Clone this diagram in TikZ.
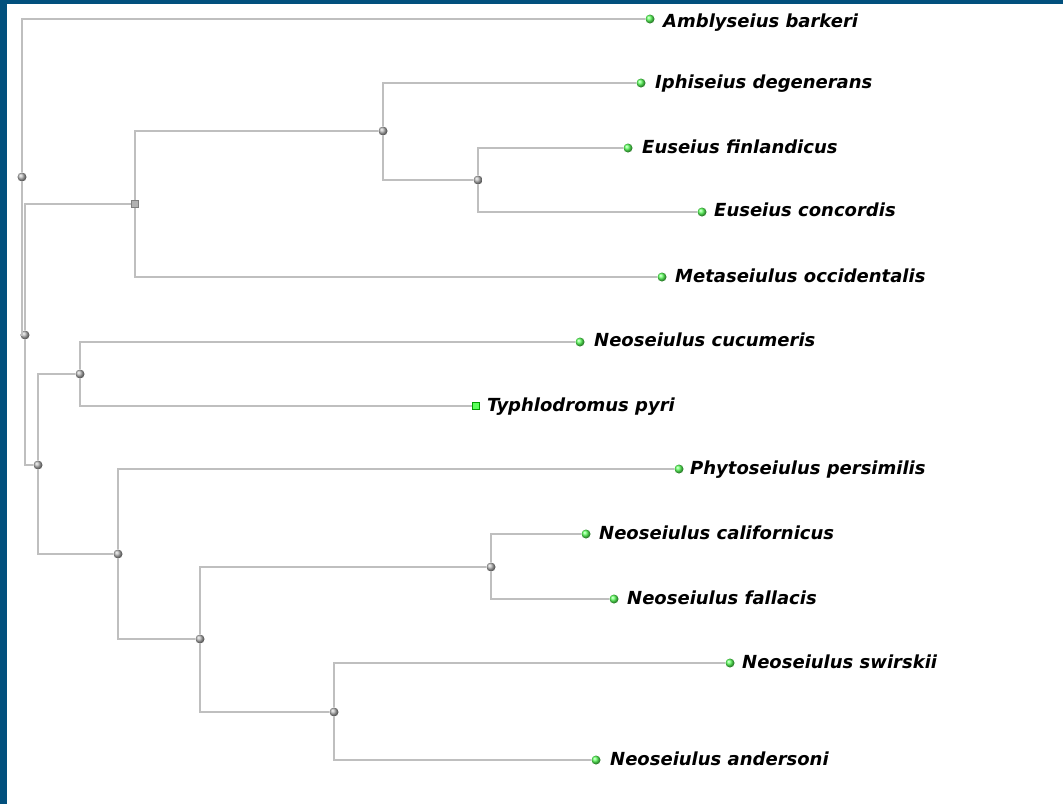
\documentclass[tikz,border=0pt]{standalone}
\usepackage{fontspec}
\setmainfont{DejaVu Sans}
\usepackage{tikz}
\usetikzlibrary{shapes}
\definecolor{frameblue}{RGB}{2,80,125}

\begin{document}
\begin{tikzpicture}[x=1pt,y=-1pt]
  \tikzstyle{Branch}=[draw=black!25,line width=1.4pt]
  \tikzstyle{Inner}=[circle,inner sep=0pt,minimum size=9pt,shading=ball,ball color=gray!60]
  \tikzstyle{InnerBox}=[rectangle,inner sep=0pt,minimum size=7pt,fill=gray!60,draw=gray,line width=0.6pt]
  \tikzstyle{Leaf}=[circle,inner sep=0pt,minimum size=9pt,shading=ball,ball color=green!65!white]
  \tikzstyle{LeafBox}=[rectangle,inner sep=0pt,minimum size=7pt,fill=green!65,draw=green!60!black,line width=0.6pt]
  \tikzstyle{Name}=[anchor=base west,inner sep=0pt,font=\fontsize{18}{20}\selectfont\bfseries\itshape]
  \useasboundingbox (0,0) rectangle (1063,804);
  \fill[white] (0,0) rectangle (1063,804);
  \fill[frameblue] (0,0) rectangle (1063,4);
  \fill[frameblue] (0,0) rectangle (7,804);
  % inner nodes
  \node[Inner] (r) at (22,177) {};
  \node[Inner] (n1) at (25,335) {};
  \node[InnerBox] (s) at (135,204) {};
  \node[Inner] (a1) at (383,131) {};
  \node[Inner] (a2) at (478,180) {};
  \node[Inner] (b1) at (38,465) {};
  \node[Inner] (b2) at (80,374) {};
  \node[Inner] (c1) at (118,554) {};
  \node[Inner] (c2) at (200,639) {};
  \node[Inner] (c3) at (491,567) {};
  \node[Inner] (c4) at (334,712) {};
  % leaves
  \node[Leaf] (ab) at (650,19) {};
  \node[Leaf] (id) at (641,83) {};
  \node[Leaf] (ef) at (628,148) {};
  \node[Leaf] (ec) at (702,212) {};
  \node[Leaf] (mo) at (662,277) {};
  \node[Leaf] (nc) at (580,342) {};
  \node[LeafBox] (tp) at (476,406) {};
  \node[Leaf] (pp) at (679,469) {};
  \node[Leaf] (ncal) at (586,534) {};
  \node[Leaf] (nf) at (614,599) {};
  \node[Leaf] (ns) at (730,663) {};
  \node[Leaf] (na) at (596,760) {};
  \node[Name] (abt) at ([shift={(13,8)}]ab.center) {Amblyseius barkeri};
  \node[Name] (idt) at ([shift={(14,5)}]id.center) {Iphiseius degenerans};
  \node[Name] (eft) at ([shift={(14,5)}]ef.center) {Euseius finlandicus};
  \node[Name] (ect) at ([shift={(12,4)}]ec.center) {Euseius concordis};
  \node[Name] (mot) at ([shift={(13,5)}]mo.center) {Metaseiulus occidentalis};
  \node[Name] (nct) at ([shift={(14,4)}]nc.center) {Neoseiulus cucumeris};
  \node[Name] (tpt) at ([shift={(11,5)}]tp.center) {Typhlodromus pyri};
  \node[Name] (ppt) at ([shift={(11,5)}]pp.center) {Phytoseiulus persimilis};
  \node[Name] (ncalt) at ([shift={(13,5)}]ncal.center) {Neoseiulus californicus};
  \node[Name] (nft) at ([shift={(13,5)}]nf.center) {Neoseiulus fallacis};
  \node[Name] (nst) at ([shift={(12,5)}]ns.center) {Neoseiulus swirskii};
  \node[Name] (nat) at ([shift={(14,5)}]na.center) {Neoseiulus andersoni};
  % branches
  \draw[Branch] (r) |- (ab);
  \draw[Branch] (r) |- (n1);
  \draw[Branch] (n1) |- (s);
  \draw[Branch] (n1) |- (b1);
  \draw[Branch] (s) |- (a1);
  \draw[Branch] (s) |- (mo);
  \draw[Branch] (a1) |- (id);
  \draw[Branch] (a1) |- (a2);
  \draw[Branch] (a2) |- (ef);
  \draw[Branch] (a2) |- (ec);
  \draw[Branch] (b1) |- (b2);
  \draw[Branch] (b1) |- (c1);
  \draw[Branch] (b2) |- (nc);
  \draw[Branch] (b2) |- (tp);
  \draw[Branch] (c1) |- (pp);
  \draw[Branch] (c1) |- (c2);
  \draw[Branch] (c2) |- (c3);
  \draw[Branch] (c2) |- (c4);
  \draw[Branch] (c3) |- (ncal);
  \draw[Branch] (c3) |- (nf);
  \draw[Branch] (c4) |- (ns);
  \draw[Branch] (c4) |- (na);
\end{tikzpicture}
\end{document}
